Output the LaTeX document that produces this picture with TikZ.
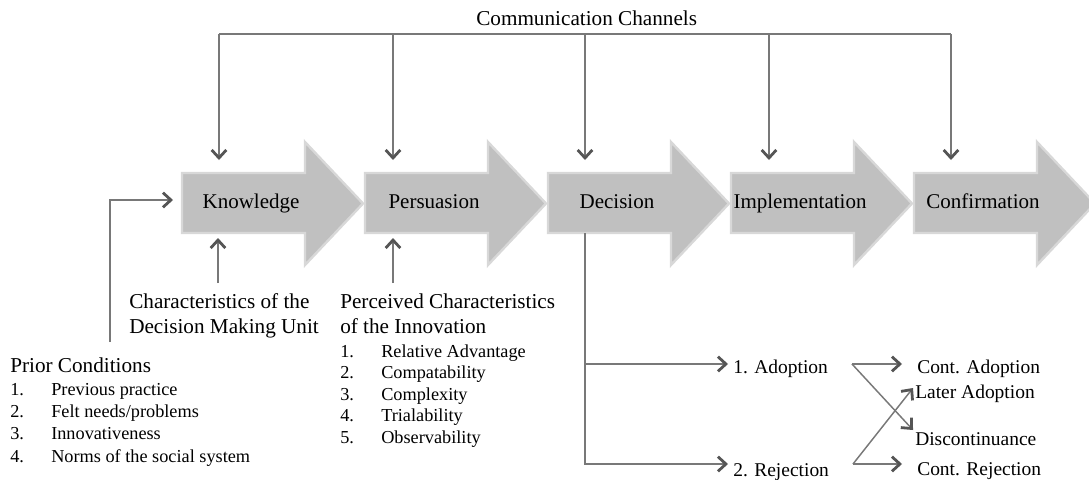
\documentclass[tikz,border=0pt]{standalone}
\usepackage{fontspec}
\setmainfont{Liberation Serif}
\usetikzlibrary{arrows.meta}
\definecolor{linegray}{RGB}{120,120,120}
\definecolor{headgray}{RGB}{85,85,85}
\definecolor{stagefill}{RGB}{192,192,192}
\definecolor{stageedge}{RGB}{216,216,216}
\begin{document}
\begin{tikzpicture}[x=0.75pt, y=-0.75pt,
  stage/.style={fill=stagefill, draw=stageedge, line width=1.8pt},
  stagetxt/.style={anchor=base, inner sep=0pt, font=\fontsize{15.75}{18}\selectfont},
  lbl/.style={anchor=base west, inner sep=0pt, font=\fontsize{15.9}{18}\selectfont},
  item/.style={anchor=base west, inner sep=0pt, font=\fontsize{13.7}{16}\selectfont},
  outc/.style={anchor=base west, inner sep=0pt, font=\fontsize{14.6}{17}\selectfont},
  conn/.style={draw=linegray, line width=1.1pt},
  arr/.style={conn, -{Straight Barb[length=6pt, width=11pt, line width=2.1pt, color=headgray]}}]
\useasboundingbox (0,0) rectangle (1089,479);
% Etapas
\foreach \L/\nm/\txt in {182/know/Knowledge, 365/pers/Persuasion, 548/deci/Decision,
                         731/impl/Implementation, 914/conf/Confirmation}{
  \filldraw[stage] (\L,173) -- ++(123,0) -- ++(0,-31) -- ++(58,61.5) -- ++(-58,61.5)
                   -- ++(0,-32) -- ++(-123,0) -- cycle;
  \node[stagetxt] (\nm) at ({\L+69},208) {\txt};
}
% Canales
\node[lbl] (comm) at (476,25) {Communication Channels};
\foreach \x [count=\i] in {219,393,585,769,951}{
  \coordinate (ch\i) at (\x,34);
  \coordinate (in\i) at (\x,160);
  \draw[arr] (ch\i) -- (in\i);
}
\draw[conn] (ch1) -- (ch5);
% Condiciones previas
\node[lbl] (prior) at (10,372) {Prior Conditions};
\foreach \txt [count=\i] in {Previous practice, Felt needs/problems, Innovativeness,
                             Norms of the social system}{
  \node[item] (pcn\i) at (10,{373+22.3*\i}) {\i.};
  \node[item] (pct\i) at (51,{373+22.3*\i}) {\txt};
}
\coordinate (pc0) at (110,342);
\coordinate (pc1) at (173,200);
\draw[arr] (pc0) |- (pc1);
% Unidad de decision
\node[lbl] (dmu1) at (129,308) {Characteristics of the};
\node[lbl] (dmu2) at (129,333) {Decision Making Unit};
\coordinate (dmu0) at (218,283);
\coordinate (dmuin) at (218,238);
\draw[arr] (dmu0) -- (dmuin);
% Caracteristicas percibidas
\node[lbl] (pci1) at (340,308) {Perceived Characteristics};
\node[lbl] (pci2) at (340,333) {of the Innovation};
\foreach \txt [count=\i] in {Relative Advantage, Compatability, Complexity,
                             Trialability, Observability}{
  \node[item] (pin\i) at (340,{335.5+21.5*\i}) {\i.};
  \node[item] (pit\i) at (381,{335.5+21.5*\i}) {\txt};
}
\coordinate (pci0) at (393,283);
\coordinate (pciin) at (393,238);
\draw[arr] (pci0) -- (pciin);
% Decision
\coordinate (dtop) at (585,233);
\coordinate (adin) at (728,364);
\coordinate (rjin) at (728,464);
\draw[arr] (dtop) |- (adin);
\draw[arr] (dtop) |- (rjin);
\node[outc] (adopt) at (733,373) {1. Adoption};
\node[outc] (reject) at (733,476) {2. Rejection};
% Resultados
\node[outc] (contad) at (917,373) {Cont. Adoption};
\node[outc] (later) at (915,398) {Later Adoption};
\node[outc] (discon) at (915,445) {Discontinuance};
\node[outc] (contrj) at (917,475) {Cont. Rejection};
\coordinate (a0) at (852,364);
\coordinate (a1) at (902,364);
\coordinate (a2) at (913,430);
\coordinate (r0) at (853,464);
\coordinate (r1) at (902,464);
\coordinate (r2) at (913,388);
\draw[arr] (a0) -- (a1);
\draw[arr] (a0) -- (a2);
\draw[arr] (r0) -- (r1);
\draw[arr] (r0) -- (r2);
\end{tikzpicture}
\end{document}
